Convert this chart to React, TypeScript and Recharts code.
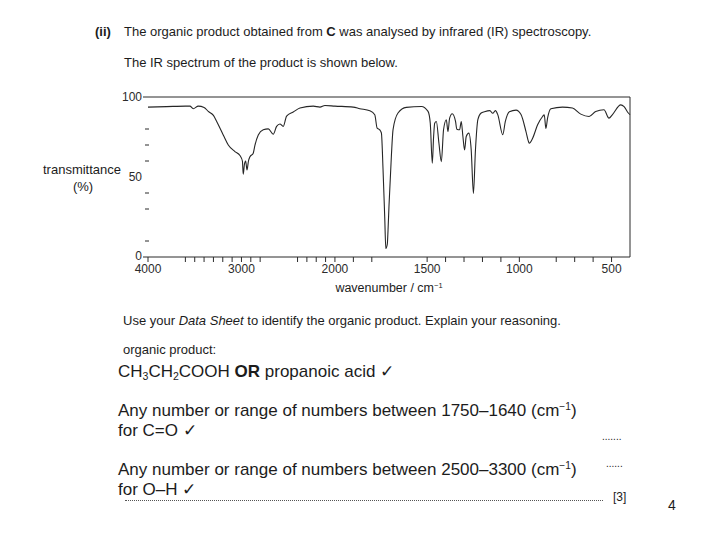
import React from 'react';
import { LineChart, Line, XAxis, YAxis, ReferenceLine } from 'recharts';

// IR spectrum: wavenumber (cm-1) and % transmittance
const wavenumbers = [
  4000, 3800, 3600, 3551, 3516, 3462, 3400, 3355, 3300, 3265, 3195, 3141, 3070, 3016, 2990,
  2981, 2968, 2955, 2941, 2925, 2909, 2874, 2856, 2820, 2767, 2713, 2660, 2624, 2588, 2553,
  2517, 2446, 2374, 2232, 2160, 2107, 2000, 1901, 1865, 1811, 1784, 1771, 1757, 1748, 1739,
  1730, 1724, 1716, 1712, 1707, 1694, 1685, 1658, 1613, 1531, 1495, 1483, 1472, 1465, 1459,
  1450, 1436, 1423, 1411, 1396, 1387, 1378, 1364, 1346, 1339, 1324, 1315, 1306, 1297, 1288,
  1274, 1261, 1249, 1238, 1225, 1207, 1189, 1160, 1144, 1130, 1117, 1090, 1076, 1054, 1018,
  991, 964, 950, 946, 928, 901, 874, 865, 856, 847, 829, 766, 712, 667, 622,
  586, 541, 514, 496, 450, 432, 409, 400,
];
const transmittance = [
  93.7, 94.0, 94.3, 94.3, 92.7, 94.3, 93.5, 91, 88.5, 84.7, 76.3, 70, 65.9, 63.4, 60,
  51.7, 58, 60, 54.4, 60, 62.7, 64.9, 69.8, 76.3, 79.5, 80.1, 76.7, 81.6, 83.1, 81.6,
  88, 90.6, 93.1, 94.3, 93.7, 94.7, 94.3, 93.7, 92.7, 91.4, 88.9, 80.5, 79.5, 77.5, 54.4,
  25, 5.3, 8, 16.8, 31.4, 62.8, 79.5, 90, 93.5, 94.1, 91, 83.6, 58.6, 75, 83.6,
  84.7, 71.1, 59.6, 79.5, 85.8, 78.4, 86.8, 89.5, 84.7, 79.9, 79.5, 84.7, 75.3, 66.9, 75.3,
  77.4, 66.9, 39.7, 66.9, 85.8, 90, 90.8, 91.5, 89.8, 91.5, 89, 76.4, 84.7, 90.8, 91.8,
  89, 78.4, 72, 71.1, 74.2, 82.6, 87.8, 88.9, 80.3, 86.8, 92.7, 93.7, 93.1, 89.3, 87.8,
  90.9, 92, 86.8, 88.9, 95.1, 94, 90, 89,
];
const majorTicks = [4000, 3000, 2000, 1500, 1000, 500];
const minorTicks = [
  3600, 3500, 3400, 3300, 3200, 3100, 2900, 2800, 2400, 2300, 2200, 2100,
  1900, 1800, 1400, 1300, 1200, 1100, 800, 700, 600,
];
const yTicks = [0, 10, 30, 40, 50, 60, 70, 80, 100];
const yLabelled = [0, 50, 100];

// the wavenumber axis is compressed above 2000 cm-1 (half scale)
const BREAK = 2000;
const HIGH = 0.0935;
const LOW = 0.1845;
const toPos = (wn: number) =>
  wn >= BREAK ? (4000 - wn) * HIGH : (4000 - BREAK) * HIGH + (BREAK - wn) * LOW;
const X_MAX = toPos(400);

const data = wavenumbers.map((wn, i) => ({ wn, pos: toPos(wn), t: transmittance[i] }));
const allTicks = [...majorTicks, ...minorTicks];
const tickWn = new Map(allTicks.map((wn) => [toPos(wn).toFixed(3), wn]));

const INK = '#2b2b2b';
const FONT = '"Liberation Sans", Arial, Helvetica, sans-serif';

function XTick(props: any) {
  const { x, y, payload } = props;
  const wn = tickWn.get(Number(payload.value).toFixed(3));
  const major = majorTicks.includes(wn as number);
  return (
    <g>
      <line x1={x} x2={x} y1={y} y2={y + 5} stroke={INK} strokeWidth={1} />
      {major && (
        <text x={x} y={y + 16} textAnchor="middle" fontSize={12} fill={INK} fontFamily={FONT}>
          {wn}
        </text>
      )}
    </g>
  );
}

function YTick(props: any) {
  const { x, y, payload } = props;
  const v = payload.value as number;
  const labelled = yLabelled.includes(v);
  return (
    <g>
      {v !== 50 && (
        <line
          x1={labelled ? x - 5 : x - 3}
          x2={labelled ? x : x + 1}
          y1={y}
          y2={y}
          stroke={INK}
          strokeWidth={1}
        />
      )}
      {labelled && (
        <text
          x={x - 6}
          y={v === 0 ? y + 2.5 : y + 4}
          textAnchor="end"
          fontSize={12}
          fill={INK}
          fontFamily={FONT}
        >
          {v}
        </text>
      )}
    </g>
  );
}

function Txt({ x, y, size, children, style }: any) {
  return (
    <div
      style={{
        position: 'absolute',
        left: x,
        top: y - size * 0.6,
        fontSize: size,
        lineHeight: `${size * 1.2}px`,
        whiteSpace: 'nowrap',
        ...style,
      }}
    >
      {children}
    </div>
  );
}

const sup = { fontSize: '0.6em', verticalAlign: '0.55em', lineHeight: 0 } as const;
const sub = { fontSize: '0.62em', verticalAlign: '-0.25em', lineHeight: 0 } as const;

export default function App() {
  return (
    <div
      style={{
        position: 'absolute',
        left: 0,
        top: 0,
        width: 720,
        height: 540,
        background: '#fff',
        overflow: 'hidden',
        fontFamily: FONT,
        color: '#1c1c1c',
      }}
    >
      <Txt x={95} y={32} size={13} style={{ fontWeight: 'bold' }}>(ii)</Txt>
      <Txt x={124} y={32} size={13}>
        The organic product obtained from <b>C</b> was analysed by infrared (IR) spectroscopy.
      </Txt>
      <Txt x={124} y={63} size={13}>The IR spectrum of the product is shown below.</Txt>

      <div style={{ position: 'absolute', left: 0, top: 0 }}>
        <LineChart width={720} height={300} data={data} margin={{ top: 97, right: 90, left: 0, bottom: 0 }}>
          <XAxis
            dataKey="pos"
            type="number"
            domain={[0, X_MAX]}
            ticks={allTicks.map(toPos)}
            interval={0}
            tick={<XTick />}
            tickLine={false}
            tickSize={0}
            tickMargin={0}
            axisLine={{ stroke: INK }}
            height={43}
          />
          <YAxis
            type="number"
            domain={[0, 100]}
            ticks={yTicks}
            interval={0}
            tick={<YTick />}
            tickLine={false}
            tickSize={0}
            tickMargin={0}
            axisLine={false}
            width={148}
          />
          <ReferenceLine y={100} stroke={INK} />
          <ReferenceLine x={X_MAX} stroke={INK} />
          <Line
            type="monotone"
            dataKey="t"
            stroke="#262626"
            strokeWidth={1.1}
            dot={false}
            isAnimationActive={false}
          />
        </LineChart>
      </div>

      <Txt x={82} y={170} size={13} style={{ transform: 'translateX(-50%)' }}>
        transmittance
      </Txt>
      <Txt x={83} y={187} size={13} style={{ transform: 'translateX(-50%)' }}>(%)</Txt>
      <Txt x={389} y={288} size={12.5} style={{ transform: 'translateX(-50%)' }}>
        wavenumber / cm<span style={sup}>−1</span>
      </Txt>

      <Txt x={123} y={321} size={13}>
        Use your <i>Data Sheet</i> to identify the organic product. Explain your reasoning.
      </Txt>
      <Txt x={123} y={350} size={13}>organic product:</Txt>
      <Txt x={118} y={372} size={17}>
        CH<span style={sub}>3</span>CH<span style={sub}>2</span>COOH <b>OR</b> propanoic acid ✓
      </Txt>
      <Txt x={118} y={411} size={17}>
        Any number or range of numbers between 1750–1640 (cm<span style={sup}>−1</span>)
      </Txt>
      <Txt x={118} y={431} size={17}>for C=O ✓</Txt>
      <Txt x={602} y={437} size={10}>.......</Txt>
      <Txt x={118} y={470} size={17}>
        Any number or range of numbers between 2500–3300 (cm<span style={sup}>−1</span>)
      </Txt>
      <Txt x={606} y={464} size={10}>......</Txt>
      <Txt x={118} y={490} size={17}>for O–H ✓</Txt>
      <div
        style={{ position: 'absolute', left: 125, top: 500, width: 478, borderTop: '1px dotted #555' }}
      />
      <Txt x={613} y={497} size={12}>[3]</Txt>
      <Txt x={668} y={505} size={14}>4</Txt>
    </div>
  );
}
